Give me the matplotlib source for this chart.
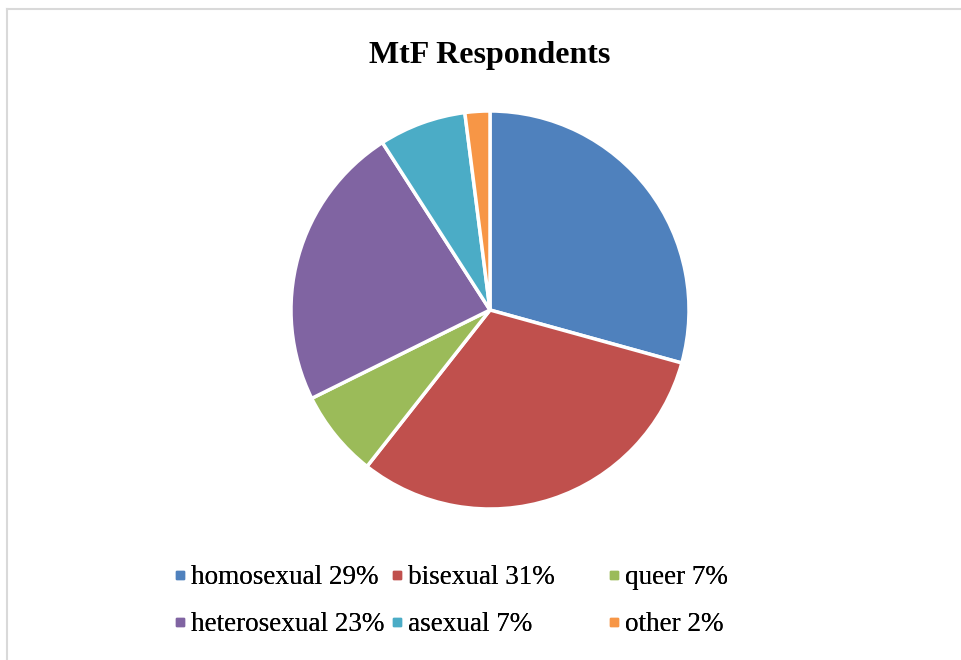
import matplotlib.pyplot as plt
from matplotlib.lines import Line2D

categories = ['homosexual', 'bisexual', 'queer', 'heterosexual', 'asexual', 'other']
shares = [29, 31, 7, 23, 7, 2]
colors = ['#4F81BD', '#C0504D', '#9BBB59', '#8064A2', '#4BACC6', '#F79646']

plt.rcParams['font.family'] = ['Liberation Serif', 'DejaVu Serif']

fig = plt.figure(figsize=(9.62, 6.6), dpi=100)

# pie centred at (490, 310) px, radius ~199 px
ax = fig.add_axes([(490 - 200) / 962, 1 - (310 + 200) / 660, 400 / 962, 400 / 660])
ax.pie(shares, colors=colors, startangle=90, counterclock=False,
       wedgeprops=dict(edgecolor='white', linewidth=2.5), radius=1.0)
ax.set_xlim(-1.005, 1.005)
ax.set_ylim(-1.005, 1.005)
ax.set_aspect('equal')
ax.axis('off')

fig.text(490 / 962, 1 - 55 / 660, 'MtF Respondents', ha='center', va='center',
         fontsize=23, fontweight='bold')

# frame: only top and left edges show in the crop
fig.add_artist(Line2D([7.5 / 962, 1], [1 - 8.5 / 660] * 2, color='#D9D9D9', lw=1.5))
fig.add_artist(Line2D([7.5 / 962] * 2, [0, 1 - 8.5 / 660], color='#D9D9D9', lw=1.5))

labels = ['%s %d%%' % (c, s) for c, s in zip(categories, shares)]
col_x = [172, 389, 606]
for col in range(3):
    idx = [col, col + 3]
    handles = [Line2D([], [], marker='s', linestyle='', color=colors[i], markersize=6)
               for i in idx]
    leg = fig.legend(handles, [labels[i] for i in idx],
                     loc='upper left', bbox_to_anchor=(col_x[col] / 962, 1 - 565 / 660),
                     frameon=False, fontsize=19.5, handlelength=0.6, handletextpad=0.1,
                     borderpad=0, borderaxespad=0, labelspacing=0.83)
    fig.add_artist(leg)

fig.savefig('out.png', dpi=100)
